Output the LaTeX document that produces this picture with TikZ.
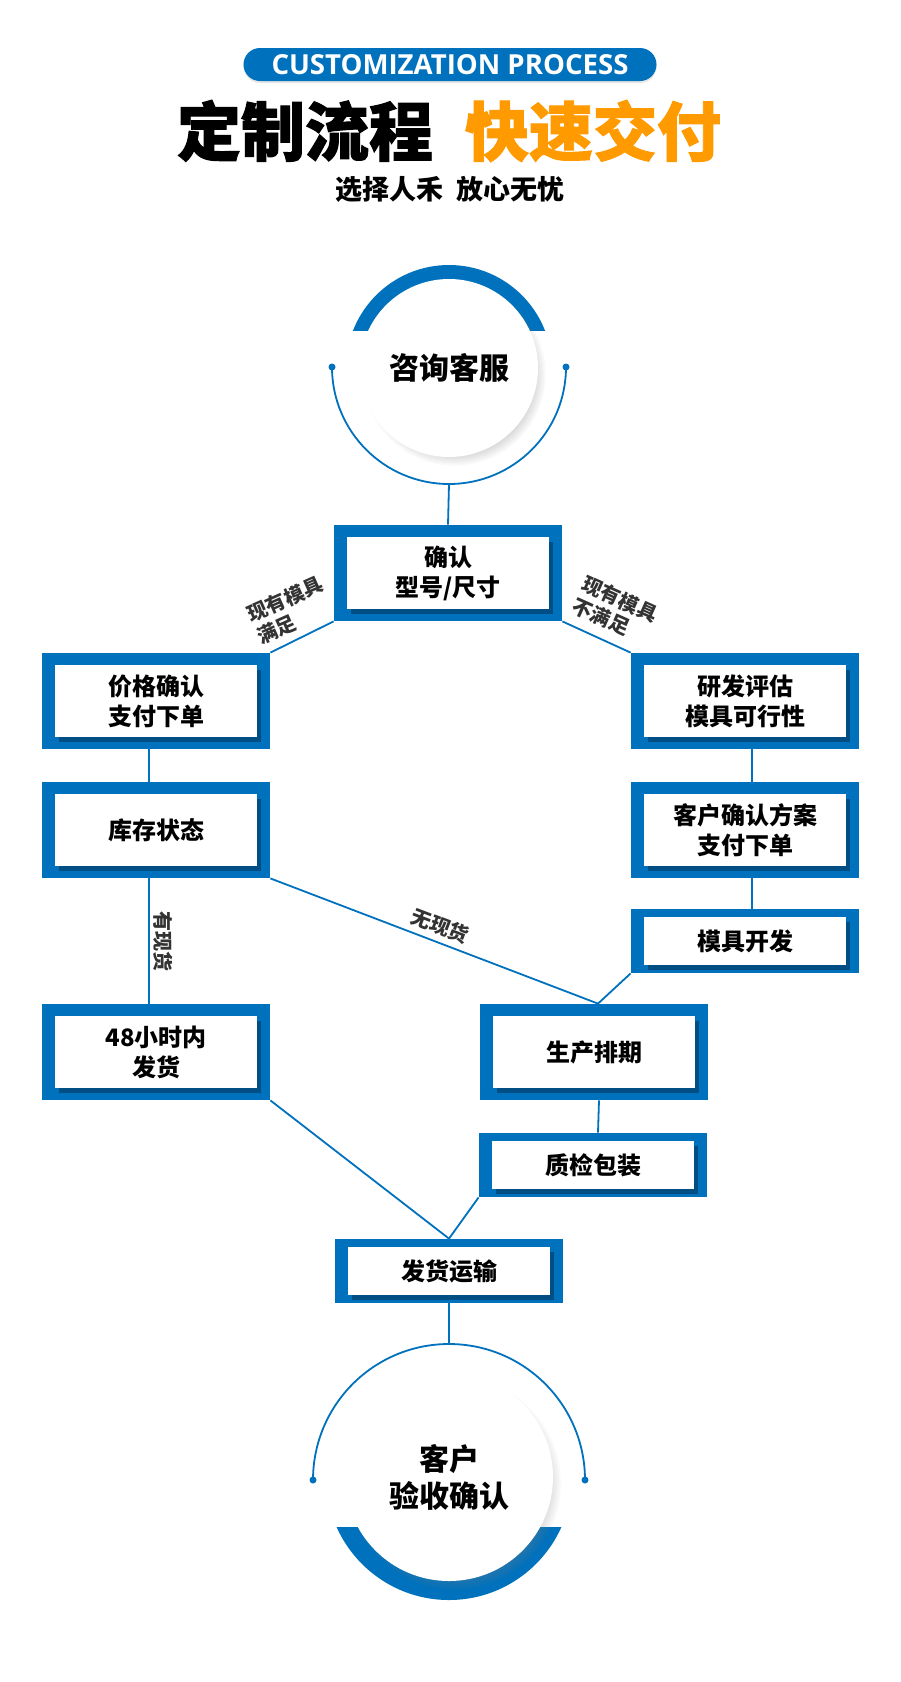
\documentclass[tikz,border=0pt]{standalone}
\usepackage{fontspec}
\setmainfont{Noto Sans CJK SC}
\newfontfamily\latinfont{Open Sans}
\newfontfamily\titlefont{Noto Sans CJK SC}[BoldFeatures={FakeBold=1.5}]
\usetikzlibrary{shadows}
\definecolor{procblue}{HTML}{0071BC}
\definecolor{procorange}{HTML}{FF9A00}
\definecolor{labelgray}{HTML}{333333}

\begin{document}
\begin{tikzpicture}[x=0.5pt,y=-0.5pt]
\tikzset{
  frame x/.store in=\framex, frame y/.store in=\framey,
  stage/.style = {fill=procblue, minimum width=114pt, minimum height=48pt, inner sep=0pt,
    align=center, font=\bfseries\fontsize{12pt}{15pt}\selectfont, frame x=6.5pt, frame y=6pt,
    path picture={
      \fill[black,opacity=0.3] ([shift={(\framex+2pt,\framey-2.5pt)}]path picture bounding box.south west)
        rectangle ([shift={(-\framex+2pt,-\framey-2.5pt)}]path picture bounding box.north east);
      \fill[white] ([shift={(\framex,\framey)}]path picture bounding box.south west)
        rectangle ([shift={(-\framex,-\framey)}]path picture bounding box.north east);
    }},
  flat stage/.style = {stage, minimum height=32pt, frame y=4pt},
  hub/.style = {circle, fill=white, inner sep=0pt, align=center,
    font=\bfseries\fontsize{15pt}{18.5pt}\selectfont,
    circular drop shadow={shadow scale=1.03, shadow xshift=2.5pt, shadow yshift=-3pt, opacity=0.35}},
  cond/.style = {text=labelgray, inner sep=0pt, font=\bfseries\fontsize{10pt}{12pt}\selectfont},
  link/.style = {draw=procblue, line width=0.9pt},
  ring/.style = {draw=procblue, line width=0.9pt}
}

\useasboundingbox[fill=white] (0,0) rectangle (900,1682);

% heading
\node[fill=procblue, rounded corners=8.25pt, minimum width=206.5pt, minimum height=16.5pt, inner sep=0pt,
  text=white, font=\latinfont\bfseries\fontsize{13.8pt}{13.8pt}\selectfont,
  drop shadow={opacity=0.2, shadow xshift=0pt, shadow yshift=-1pt}] (tagline) at (450,64.5) {CUSTOMIZATION PROCESS};
\node[font=\titlefont\bfseries\fontsize{32pt}{32pt}\selectfont] (heading) at (449,131)
  {定制流程\hspace{16pt}\textcolor{procorange}{快速交付}};
\node[font=\bfseries\fontsize{13.5pt}{13.5pt}\selectfont] (slogan) at (450,189) {选择人禾\hspace{0.5em}放心无忧};

% top circle
\begin{scope}
  \clip (300,200) rectangle (600,330);
  \fill[procblue] (449,368) circle[radius=103];
\end{scope}
\draw[ring] (332,367) arc[start angle=180, end angle=0, radius=117];
\fill[procblue] (332,367) circle[radius=3.5];
\fill[procblue] (566,367) circle[radius=3.5];
\coordinate (consult arc) at (449,484);
\node[hub, minimum size=89pt] (consult) at (449,368) {咨询客服};

% bottom circle
\begin{scope}
  \clip (300,1527) rectangle (600,1620);
  \fill[procblue] (449,1477) circle[radius=123];
\end{scope}
\draw[ring] (313,1480) arc[start angle=180, end angle=360, radius=136];
\fill[procblue] (313,1480) circle[radius=3.5];
\fill[procblue] (585,1480) circle[radius=3.5];
\coordinate (accept arc) at (449,1344);
\node[hub, minimum size=104pt] (accept) at (449,1477) {客户\\验收确认};

% stages
\node[stage] (confirm) at (448,573) {确认\\型号/尺寸};
\node[stage] (price) at (156,701) {价格确认\\支付下单};
\node[stage] (stock) at (156,830) {库存状态};
\node[stage] (instock48) at (156,1052) {48小时内\\发货};
\node[stage] (rdeval) at (745,701) {研发评估\\模具可行性};
\node[stage] (plan) at (745,830) {客户确认方案\\支付下单};
\node[flat stage] (molddev) at (745,941) {模具开发};
\node[stage] (schedule) at (594,1052) {生产排期};
\node[flat stage] (qcpack) at (593,1165) {质检包装};
\node[flat stage] (shipping) at (449,1271) {发货运输};

% conditions
\node[cond, rotate=24, align=left] (fit label) at (290,610) {现有模具\\满足};
\node[cond, rotate=-24, align=left] (nofit label) at (615,610) {现有模具\\不满足};

% connectors
\path (consult arc) edge[link] (confirm.north);
\path (confirm.south west) edge[link] (price.north east);
\path (confirm.south east) edge[link] (rdeval.north west);
\path ([xshift=-3.5pt]price.south) edge[link] ([xshift=-3.5pt]stock.north);
\path ([xshift=-3.5pt]stock.south) edge[link] node[cond, midway, xshift=7pt, rotate=-90] {有现货} ([xshift=-3.5pt]instock48.north);
\path (stock.south east) edge[link] node[cond, midway, sloped, above=3pt] {无现货} ([xshift=2pt]schedule.north);
\path ([xshift=3.5pt]rdeval.south) edge[link] ([xshift=3.5pt]plan.north);
\path ([xshift=3.5pt]plan.south) edge[link] ([xshift=3.5pt]molddev.north);
\path (molddev.south west) edge[link] ([xshift=2pt]schedule.north);
\path ([xshift=2.5pt]schedule.south) edge[link] ([xshift=2.5pt]qcpack.north);
\path (instock48.south east) edge[link] (shipping.north);
\path (qcpack.south west) edge[link] (shipping.north);
\path (shipping.south) edge[link] (accept arc);
\end{tikzpicture}
\end{document}
